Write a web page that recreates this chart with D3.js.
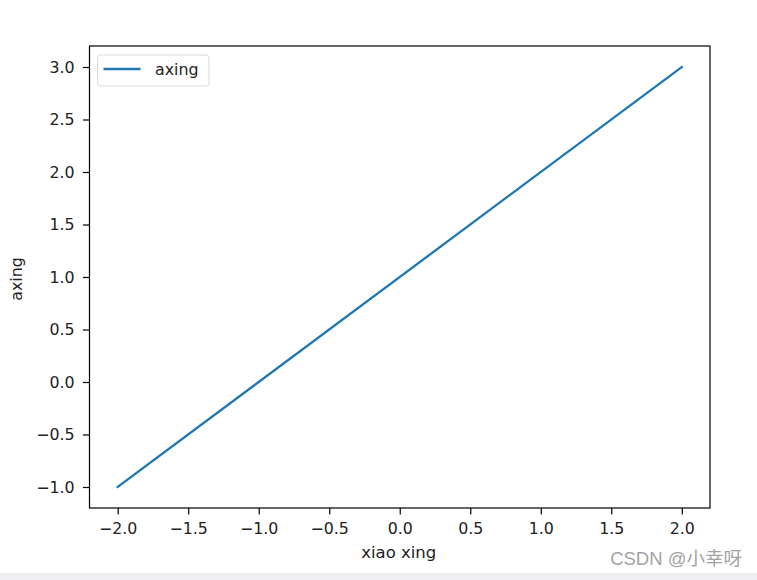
<!DOCTYPE html>
<html>
<head>
<meta charset="utf-8">
<script src="https://cdn.jsdelivr.net/npm/d3@7"></script>
<style>
  body { margin: 0; background: #fff; }
  svg { display: block; font-family: "DejaVu Sans", sans-serif; }
</style>
</head>
<body>
<div id="chart"></div>
<script>
// data
const xValues = [-2, 2];
const yValues = [-1, 3];
const seriesName = "axing";
const xTicks = [-2.0, -1.5, -1.0, -0.5, 0.0, 0.5, 1.0, 1.5, 2.0];
const yTicks = [-1.0, -0.5, 0.0, 0.5, 1.0, 1.5, 2.0, 2.5, 3.0];
const xLabel = "xiao xing";
const yLabel = "axing";

const svgWidth = 757;
const svgHeight = 580;

const margin = { top: 46, right: 47, bottom: 72, left: 89.5 };
const chartWidth = svgWidth - margin.left - margin.right;
const chartHeight = svgHeight - margin.top - margin.bottom;
const fontSize = 15.8;

const svg = d3.select("#chart").append("svg")
    .attr("width", svgWidth)
    .attr("height", svgHeight);

// bottom grey strip + watermark
svg.append("rect")
    .attr("x", 0).attr("y", 573)
    .attr("width", svgWidth).attr("height", svgHeight - 573)
    .attr("fill", "#f0f0f2");

svg.append("text")
    .attr("x", 742).attr("y", 565)
    .attr("text-anchor", "end")
    .attr("font-family", "'Liberation Sans', 'Noto Sans CJK SC', sans-serif")
    .attr("font-size", 18.5)
    .attr("fill", "#a3a3a3")
    .text("CSDN @小幸呀");

const xScale = d3.scaleLinear().domain([-2.2, 2.2]).range([0, chartWidth]);
const yScale = d3.scaleLinear().domain([-1.2, 3.2]).range([chartHeight, 0]);

const g = svg.append("g")
    .attr("transform", `translate(${margin.left}, ${margin.top})`);

const fmt = d => d3.format(".1f")(d).replace("-", "\u2212");

const xAxis = d3.axisBottom(xScale).tickValues(xTicks).tickFormat(fmt)
    .tickSize(6.5).tickPadding(8);
const yAxis = d3.axisLeft(yScale).tickValues(yTicks).tickFormat(fmt)
    .tickSize(6.5).tickPadding(8.5);

const xAxisG = g.append("g")
    .attr("transform", `translate(0, ${chartHeight})`)
    .call(xAxis);
const yAxisG = g.append("g").call(yAxis);

[xAxisG, yAxisG].forEach(a => {
    a.select(".domain").remove();
    a.selectAll(".tick line").attr("stroke", "#000").attr("stroke-width", 1.2);
    a.selectAll(".tick text")
        .attr("font-family", "'DejaVu Sans', sans-serif")
        .attr("font-size", fontSize)
        .attr("fill", "#222");
});

// the line
const line = d3.line()
    .x((d, i) => xScale(xValues[i]))
    .y((d, i) => yScale(yValues[i]));

g.append("path")
    .datum(xValues)
    .attr("d", line)
    .attr("fill", "none")
    .attr("stroke", "#1f77b4")
    .attr("stroke-width", 2.3)
    .attr("stroke-linecap", "square");

// frame
g.append("rect")
    .attr("width", chartWidth)
    .attr("height", chartHeight)
    .attr("fill", "none")
    .attr("stroke", "#000")
    .attr("stroke-width", 1.2);

// axis labels
svg.append("text")
    .attr("x", margin.left + chartWidth / 2 - 1)
    .attr("y", 558)
    .attr("text-anchor", "middle")
    .attr("font-size", 16.5)
    .attr("fill", "#222")
    .text(xLabel);

svg.append("text")
    .attr("transform", `translate(22, ${margin.top + chartHeight / 2 + 2}) rotate(-90)`)
    .attr("text-anchor", "middle")
    .attr("font-size", fontSize)
    .attr("fill", "#222")
    .text(yLabel);

// legend
const legend = g.append("g").attr("transform", "translate(8, 9)");
legend.append("rect")
    .attr("width", 111.5).attr("height", 31)
    .attr("rx", 3)
    .attr("fill", "#fff")
    .attr("fill-opacity", 0.8)
    .attr("stroke", "#d9d9d9");
legend.append("line")
    .attr("x1", 6).attr("x2", 43)
    .attr("y1", 14).attr("y2", 14)
    .attr("stroke", "#1f77b4")
    .attr("stroke-width", 2.3);
legend.append("text")
    .attr("x", 57.5).attr("y", 20)
    .attr("font-size", fontSize)
    .attr("fill", "#222")
    .text(seriesName);
</script>
</body>
</html>
